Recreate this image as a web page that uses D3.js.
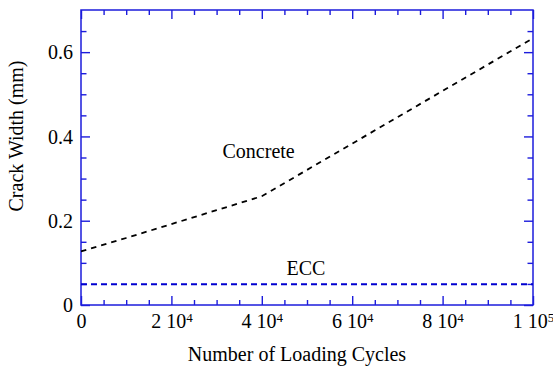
<!DOCTYPE html>
<html>
<head>
<meta charset="utf-8">
<script src="https://cdn.jsdelivr.net/npm/d3@7"></script>
<style>
  html, body { margin: 0; padding: 0; background: #fff; }
</style>
</head>
<body>
<svg id="chart" width="553" height="367"></svg>
<script>
// Crack width growth under cyclic loading
const concreteCycles = [0, 10000, 20000, 30000, 40000, 100000];
const concreteWidth  = [0.127, 0.159, 0.192, 0.225, 0.258, 0.633];
const eccCycles = [0, 100000];
const eccWidth  = [0.049, 0.049];

const xMajorTicks = [0, 20000, 40000, 60000, 80000, 100000];
const xTickMantissa = ["0", "2", "4", "6", "8", "1"];
const xTickExponent = ["", "4", "4", "4", "4", "5"];
const yMajorTicks = [0, 0.2, 0.4, 0.6];
const yTickLabels = ["0", "0.2", "0.4", "0.6"];

const xMinorTicks = d3.range(0, 100001, 5000).filter(v => v % 20000 !== 0);
const yMinorTicks = d3.range(0.05, 0.7, 0.05).map(v => +v.toFixed(2)).filter(v => Math.round(v * 100) % 20 !== 0);

const margin = { left: 81, right: 20, top: 10, bottom: 62 };
const W = 553, H = 367;
const serif = "Liberation Serif";
const svg = d3.select("#chart").attr("font-family", serif);

const x = d3.scaleLinear().domain([0, 100000]).range([margin.left, W - margin.right]);
const y = d3.scaleLinear().domain([0, 0.7]).range([H - margin.bottom, margin.top]);

const axisColor = "#1c1cdc";
const fontSize = 20;

function styleAxis(g) {
  g.attr("font-family", serif);
  g.select(".domain").remove();
  g.selectAll(".tick line").attr("stroke", axisColor).attr("stroke-width", 1.4);
}

// minor and major ticks on all four sides, pointing inward
svg.append("g").attr("transform", `translate(0,${y(0)})`)
  .call(d3.axisBottom(x).tickValues(xMinorTicks).tickSize(-5).tickFormat(""))
  .call(styleAxis);
svg.append("g").attr("transform", `translate(0,${y(0.7)})`)
  .call(d3.axisTop(x).tickValues(xMinorTicks).tickSize(-5).tickFormat(""))
  .call(styleAxis);
svg.append("g").attr("transform", `translate(0,${y(0.7)})`)
  .call(d3.axisTop(x).tickValues(xMajorTicks).tickSize(-9).tickFormat(""))
  .call(styleAxis);
svg.append("g").attr("transform", `translate(${x(0)},0)`)
  .call(d3.axisLeft(y).tickValues(yMinorTicks).tickSize(-5.5).tickFormat(""))
  .call(styleAxis);
svg.append("g").attr("transform", `translate(${x(100000)},0)`)
  .call(d3.axisRight(y).tickValues(yMinorTicks).tickSize(-5.5).tickFormat(""))
  .call(styleAxis);
svg.append("g").attr("transform", `translate(${x(100000)},0)`)
  .call(d3.axisRight(y).tickValues(yMajorTicks).tickSize(-9).tickFormat(""))
  .call(styleAxis);

// bottom axis with mantissa and superscript exponent labels
const xAxisG = svg.append("g").attr("transform", `translate(0,${y(0)})`)
  .call(d3.axisBottom(x).tickValues(xMajorTicks).tickSize(-9).tickFormat(""))
  .call(styleAxis);
xAxisG.selectAll(".tick").each(function(d, i) {
  const t = d3.select(this).append("text")
    .attr("y", 23)
    .attr("text-anchor", "middle")
    .attr("font-family", serif)
    .attr("font-size", fontSize)
    .attr("fill", "#000");
  t.append("tspan").text(xTickExponent[i] ? xTickMantissa[i] + " 10" : xTickMantissa[i]);
  if (xTickExponent[i]) {
    t.append("tspan").attr("font-size", 13).attr("dy", -6).text(xTickExponent[i]);
  }
});

// left axis with decimal labels
const yAxisG = svg.append("g").attr("transform", `translate(${x(0)},0)`)
  .call(d3.axisLeft(y).tickValues(yMajorTicks).tickSize(-9).tickFormat((d, i) => yTickLabels[i]))
  .call(styleAxis);
yAxisG.selectAll(".tick text")
  .attr("x", -8).attr("dy", "0.34em")
  .attr("font-family", serif)
  .attr("font-size", fontSize).attr("fill", "#000");

// plot frame
svg.append("rect")
  .attr("x", x(0)).attr("y", y(0.7))
  .attr("width", x(100000) - x(0)).attr("height", y(0) - y(0.7))
  .attr("fill", "none").attr("stroke", axisColor).attr("stroke-width", 1.5);

const line = d3.line().x(d => x(d[0])).y(d => y(d[1]));

svg.append("path")
  .datum(concreteCycles.map((c, i) => [c, concreteWidth[i]]))
  .attr("d", line)
  .attr("fill", "none").attr("stroke", "#000")
  .attr("stroke-width", 1.8).attr("stroke-dasharray", "5.5,5");

svg.append("path")
  .datum(eccCycles.map((c, i) => [c, eccWidth[i]]))
  .attr("d", line)
  .attr("fill", "none").attr("stroke", "#0000d0")
  .attr("stroke-width", 2).attr("stroke-dasharray", "6,4");

function label(sel) {
  return sel.attr("font-family", serif).attr("font-size", fontSize).attr("fill", "#000");
}

// series labels
svg.append("text").attr("x", 222.5).attr("y", 158).call(label).text("Concrete");
svg.append("text").attr("x", 286.5).attr("y", 275).call(label).text("ECC");

// axis titles
svg.append("text")
  .attr("x", 297).attr("y", 361)
  .attr("text-anchor", "middle").call(label)
  .text("Number of Loading Cycles");
svg.append("text")
  .attr("transform", "translate(23,136) rotate(-90)")
  .attr("text-anchor", "middle").call(label)
  .text("Crack Width (mm)");
</script>
</body>
</html>
